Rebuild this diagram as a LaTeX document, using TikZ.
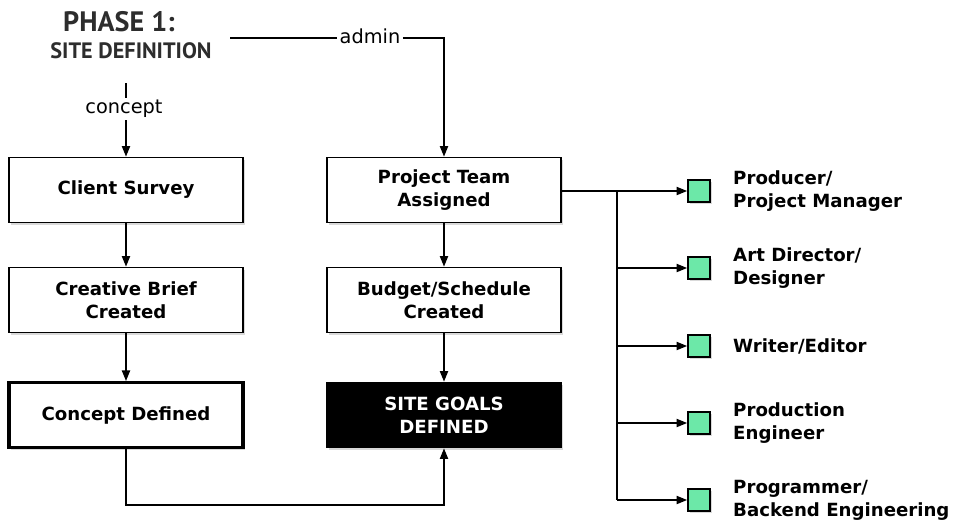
\documentclass[tikz,border=0pt]{standalone}
\usepackage{fontspec}
\setmainfont{DejaVu Sans}
\newfontfamily\headfont{PT Sans}
\usetikzlibrary{arrows.meta,shadows}
\definecolor{mint}{RGB}{108,232,168}
\definecolor{headgray}{RGB}{45,45,45}

\begin{document}
\begin{tikzpicture}[x=0.03cm,y=-0.03cm,
  task/.style={draw,line width=1.5pt,fill=white,minimum width=7.02cm,minimum height=1.95cm,
    align=center,font=\bfseries\fontsize{15.5}{19.5}\selectfont,
    drop shadow={opacity=0.3,shadow xshift=2pt,shadow yshift=-2pt}},
  role/.style={draw,line width=1.5pt,fill=mint,minimum size=0.66cm,inner sep=0pt,
    drop shadow={opacity=0.3,shadow xshift=1.5pt,shadow yshift=-1.5pt}},
  rolelbl/.style={anchor=west,align=left,inner sep=0pt,font=\bfseries\fontsize{15.5}{19.5}\selectfont},
  link/.style={line width=1.2pt},
  arr/.style={link,-{Triangle[length=9pt,width=7pt]}},
  tag/.style={font=\fontsize{16.5}{19}\selectfont,inner sep=2pt}]
  \useasboundingbox (0,0) rectangle (955,525);

  % heading
  \node[headgray,font=\headfont\bfseries\fontsize{24}{26}\selectfont] (phase) at (119,22) {PHASE 1:};
  \node[headgray,font=\headfont\bfseries\fontsize{19}{21}\selectfont] (site) at (131,51) {SITE DEFINITION};

  % left column
  \node[task] (survey) at (126,190) {Client Survey};
  \node[task] (brief) at (126,300) {Creative Brief\\Created};
  \node[task,line width=2.6pt] (concept) at (126,415) {Concept Defined};

  % middle column
  \node[task] (team) at (444,190) {Project Team\\Assigned};
  \node[task] (budget) at (444,300) {Budget/Schedule\\Created};
  \node[task,fill=black,text=white] (goals) at (444,415) {SITE GOALS\\DEFINED};

  % inputs from the heading
  \coordinate (ctop) at (126,83);
  \node[tag] (ctag) at (124,109) {concept};
  \draw[link] (ctop) -- (ctop |- ctag.north);
  \draw[arr] (ctop |- ctag.south) -- (survey.north);
  \coordinate (astart) at (230,38);
  \node[tag] (atag) at (370,36) {admin};
  \draw[link] (astart) -- (atag.west |- astart);
  \draw[arr] (atag.east |- astart) -| (team.north);

  \draw[arr] (survey) -- (brief);
  \draw[arr] (brief) -- (concept);
  \draw[arr] (team) -- (budget);
  \draw[arr] (budget) -- (goals);
  \draw[arr] (concept.south) -- ++(0,56) -| (goals.south);

  % team roles
  \coordinate (trunk) at (617,191);
  \coordinate (tend) at (617,500);
  \draw[link] (team.east |- trunk) -- (trunk) -- (tend);
  \foreach \y/\name/\txt in {191/prod/{Producer/\\Project Manager},
      268/art/{Art Director/\\Designer},
      346/writer/{Writer/Editor},
      423/eng/{Production\\Engineer},
      500/backend/{Programmer/\\Backend Engineering}} {
    \node[role] (\name) at (699,\y) {};
    \draw[arr] (trunk |- \name) -- (\name.west);
    \node[rolelbl] (\name-l) at (733,\y) {\txt};
  }
\end{tikzpicture}
\end{document}
